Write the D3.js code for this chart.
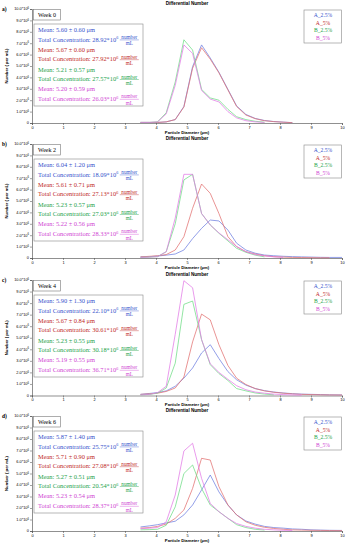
<!DOCTYPE html>
<html>
<head>
<meta charset="utf-8">
<script src="https://cdn.jsdelivr.net/npm/d3@7"></script>
<style>
  body { margin: 0; background: #fff; }
  svg { display: block; }
</style>
</head>
<body>
<svg id="chart"></svg>
<script>
// particle diameters (µm) shared by every curve
const diameters = [3.5, 3.8, 4.05, 4.33, 4.62, 4.9, 5.18, 5.47, 5.75, 6.03, 6.32, 6.6, 6.9, 7.2, 7.5, 7.8, 8.1, 8.4, 8.7, 9.0, 9.3, 9.6, 10.0];

// number per mL, in units of 10^6 (null = no measurement)
const week0 = {
  A_25: [0.05, 0.05, 0.05, 0.1, 0.3, 1.45, 4.95, 6.85, 5.7, 4.45, 2.95, 1.5, 0.75, 0.4, 0.22, 0.13, 0.08, 0.03, null, null, null, null, null],
  A_5:  [0.05, 0.05, 0.05, 0.1, 0.3, 1.4, 4.8, 6.6, 5.6, 4.4, 2.9, 1.45, 0.7, 0.38, 0.2, 0.12, 0.07, 0.03, null, null, null, null, null],
  B_25: [0.05, 0.05, 0.1, 0.9, 3.6, 7.3, 6.4, 2.95, 2.2, 2.0, 1.2, 0.55, 0.3, 0.15, 0.07, null, null, null, null, null, null, null, null],
  B_5:  [0.05, 0.05, 0.1, 0.8, 3.3, 6.85, 6.1, 2.85, 2.1, 1.85, 1.0, 0.45, 0.2, 0.1, 0.05, null, null, null, null, null, null, null, null]
};
const week2 = {
  A_25: [0.1, 0.12, 0.17, 0.25, 0.35, 0.7, 1.7, 2.6, 3.33, 3.25, 2.45, 1.3, 0.7, 0.42, 0.26, 0.2, 0.15, 0.12, 0.1, 0.08, 0.06, 0.05, 0.05],
  A_5:  [0.1, 0.15, 0.2, 0.3, 0.7, 1.87, 4.36, 6.49, 5.67, 3.9, 1.87, 1.0, 0.55, 0.35, 0.2, 0.12, 0.08, 0.05, 0.04, 0.03, 0.02, 0.02, null],
  B_25: [0.05, 0.08, 0.12, 0.55, 3.0, 6.85, 7.34, 3.9, 2.9, 2.17, 1.5, 0.85, 0.5, 0.25, 0.1, null, null, null, null, null, null, null, null],
  B_5:  [0.05, 0.08, 0.12, 0.55, 3.5, 7.34, 7.34, 3.9, 2.9, 2.2, 1.6, 1.0, 0.55, 0.3, 0.18, 0.1, 0.05, null, null, null, null, null, null]
};
const week4 = {
  A_25: [0.1, 0.18, 0.25, 0.4, 0.8, 1.5, 2.38, 3.68, 4.4, 3.2, 2.07, 1.36, 0.9, 0.6, 0.42, 0.3, 0.22, 0.16, 0.12, 0.1, 0.08, 0.06, 0.05],
  A_5:  [0.1, 0.15, 0.2, 0.35, 0.65, 1.6, 4.64, 7.05, 6.55, 4.4, 2.6, 1.5, 0.95, 0.6, 0.4, 0.28, 0.2, 0.14, 0.1, 0.08, 0.06, 0.05, 0.04],
  B_25: [0.05, 0.1, 0.2, 0.65, 2.8, 7.89, 8.18, 4.84, 2.67, 1.9, 1.3, 0.6, 0.4, 0.22, 0.12, 0.06, null, null, null, null, null, null, null],
  B_5:  [0.05, 0.1, 0.25, 0.8, 5.3, 9.94, 9.33, 4.84, 2.75, 2.0, 1.4, 0.85, 0.5, 0.3, 0.2, 0.12, 0.08, 0.05, 0.03, null, null, null, null]
};
const week6 = {
  A_25: [0.35, 0.45, 0.55, 0.7, 0.85, 1.4, 2.26, 3.57, 4.87, 3.4, 2.26, 1.4, 0.87, 0.6, 0.4, 0.3, 0.25, 0.18, 0.15, 0.1, 0.08, 0.06, 0.05],
  A_5:  [0.25, 0.3, 0.4, 0.6, 1.1, 1.83, 3.7, 6.32, 6.17, 3.86, 2.26, 1.4, 0.8, 0.5, 0.32, 0.22, 0.15, 0.1, 0.08, 0.06, 0.05, 0.04, 0.03],
  B_25: [0.1, 0.12, 0.15, 0.5, 2.1, 5.0, 5.74, 3.7, 2.26, 1.68, 1.1, 0.55, 0.3, 0.15, 0.08, null, null, null, null, null, null, null, null],
  B_5:  [0.2, 0.25, 0.3, 0.8, 3.13, 6.96, 7.63, 4.58, 2.4, 1.68, 1.1, 0.65, 0.4, 0.25, 0.15, 0.1, 0.06, 0.04, null, null, null, null, null]
};

const seriesKeys = ["A_25", "A_5", "B_25", "B_5"];
const seriesNames = ["A_2.5%", "A_5%", "B_2.5%", "B_5%"];
const weeks = ["Week 0", "Week 2", "Week 4", "Week 6"];
const letters = ["a)", "b)", "c)", "d)"];

// mean ± sd (µm) and total concentration (10^6 / mL) per series, per week
const means = [["5.60", "5.67", "5.21", "5.20"], ["6.04", "5.61", "5.23", "5.22"], ["5.90", "5.67", "5.23", "5.19"], ["5.87", "5.71", "5.27", "5.23"]];
const sds = [["0.60", "0.60", "0.57", "0.59"], ["1.20", "0.71", "0.57", "0.56"], ["1.30", "0.84", "0.55", "0.55"], ["1.40", "0.90", "0.51", "0.54"]];
const totals = [["28.92", "27.92", "27.57", "26.03"], ["18.09", "27.13", "27.03", "28.33"], ["22.10", "30.61", "30.18", "36.71"], ["25.75", "27.08", "20.54", "28.37"]];

const xTicks = [0, 1, 2, 3, 4, 5, 6, 7, 8, 9, 10];
const yTicks = [0, 1, 2, 3, 4, 5, 6, 7, 8, 9, 10];

const panels = [week0, week2, week4, week6];

const W = 349, H = 546;
const lineColors = ["#6f7fe0", "#e27070", "#6fdc86", "#e27ae6"];
const textColors = ["#3552cc", "#c02828", "#22a24a", "#cf45d3"];
// top of y scale and zero line for each panel
const tops = [9, 144, 280, 416];
const zeros = [123, 258, 395.5, 531];

const svg = d3.select("#chart").attr("width", W).attr("height", H);

const x = d3.scaleLinear().domain([0, 10]).range([32, 342]);

panels.forEach((panel, p) => {
  const top = tops[p], zero = zeros[p];
  const y = d3.scaleLinear().domain([0, 10]).range([zero, top]);
  const g = svg.append("g");

  // title
  g.append("text")
    .attr("x", 187).attr("y", top - 4.5)
    .attr("text-anchor", "middle")
    .style("font", "bold 4.6px 'Liberation Sans', Arial, sans-serif")
    .text("Differential Number");

  // panel letter
  g.append("text")
    .attr("x", 2).attr("y", top + 1.5)
    .style("font", "bold 5.5px 'Liberation Serif', serif")
    .text(letters[p]);

  // y axis
  const yAxis = g.append("g")
    .attr("transform", `translate(${x(0)},0)`)
    .call(d3.axisLeft(y).tickValues(yTicks).tickSize(2).tickFormat(""));
  yAxis.select(".domain").attr("stroke", "#444").attr("stroke-width", 0.6);
  yAxis.selectAll(".tick line").attr("stroke", "#444").attr("stroke-width", 0.5);
  yTicks.forEach(v => {
    const t = g.append("text")
      .attr("x", x(0) - 3).attr("y", y(v) + 1.4)
      .attr("text-anchor", "end")
      .style("font", "3.9px 'Liberation Sans', Arial, sans-serif");
    if (v === 0) {
      t.text("0");
    } else {
      t.append("tspan").text(v.toFixed(1) + "*10");
      t.append("tspan").attr("dy", -1.3).style("font-size", "2.6px").text("6");
    }
  });

  // x axis
  const xAxis = g.append("g")
    .attr("transform", `translate(0,${zero})`)
    .call(d3.axisBottom(x).tickValues(xTicks).tickSize(2).tickFormat(d3.format("d")));
  xAxis.select(".domain").attr("stroke", "#444").attr("stroke-width", 0.6);
  xAxis.selectAll(".tick line").attr("stroke", "#444").attr("stroke-width", 0.5);
  xAxis.selectAll(".tick text")
    .attr("y", 3.2)
    .style("font", "3.9px 'Liberation Sans', Arial, sans-serif");

  g.append("text")
    .attr("x", 187).attr("y", zero + 10.5)
    .attr("text-anchor", "middle")
    .style("font", "bold 4.2px 'Liberation Sans', Arial, sans-serif")
    .text("Particle Diameter (µm)");

  g.append("text")
    .attr("transform", `translate(8,${(top + zero) / 2}) rotate(-90)`)
    .attr("text-anchor", "middle")
    .style("font", "bold 4.2px 'Liberation Sans', Arial, sans-serif")
    .text("Number ( per mL)");

  // curves
  const line = d3.line()
    .defined(d => d[1] !== null)
    .x(d => x(d[0]))
    .y(d => y(d[1]));
  seriesKeys.forEach((k, i) => {
    g.append("path")
      .datum(diameters.map((d, j) => [d, panel[k][j]]))
      .attr("fill", "none")
      .attr("stroke", lineColors[i])
      .attr("stroke-width", 0.75)
      .attr("stroke-linejoin", "round")
      .attr("d", line);
  });

  // week box
  g.append("rect")
    .attr("x", 33.5).attr("y", top + 0.5)
    .attr("width", 27).attr("height", 10.5)
    .attr("fill", "#fff").attr("stroke", "#777").attr("stroke-width", 0.6);
  g.append("text")
    .attr("x", 47).attr("y", top + 7.8)
    .attr("text-anchor", "middle")
    .style("font", "6px 'Liberation Serif', serif")
    .text(weeks[p]);

  // stats box
  const bx = 34, by = top + 15;
  g.append("rect")
    .attr("x", bx).attr("y", by)
    .attr("width", 109).attr("height", 82)
    .attr("fill", "#fff").attr("stroke", "#888").attr("stroke-width", 0.6);
  seriesKeys.forEach((k, i) => {
    const ly = by + 8 + i * 19.8;
    g.append("text")
      .attr("x", bx + 4).attr("y", ly)
      .attr("fill", textColors[i])
      .style("font", "6.4px 'Liberation Serif', serif")
      .text(`Mean: ${means[p][i]} ± ${sds[p][i]} μm`);
    const ty = ly + 9.5;
    const t = g.append("text")
      .attr("x", bx + 4).attr("y", ty)
      .attr("fill", textColors[i])
      .style("font", "6.4px 'Liberation Serif', serif");
    t.append("tspan").text(`Total Concentration: ${totals[p][i]}*10`);
    t.append("tspan").attr("dy", -2.3).style("font-size", "4.2px").text("6");
    const tw = t.node().getComputedTextLength();
    const fx = bx + 4 + tw + 11;
    g.append("text")
      .attr("x", fx).attr("y", ty - 2.6)
      .attr("text-anchor", "middle")
      .attr("fill", textColors[i])
      .style("font", "5.2px 'Liberation Serif', serif")
      .text("number");
    g.append("line")
      .attr("x1", fx - 9.5).attr("x2", fx + 9.5)
      .attr("y1", ty - 1.6).attr("y2", ty - 1.6)
      .attr("stroke", textColors[i]).attr("stroke-width", 0.4);
    g.append("text")
      .attr("x", fx).attr("y", ty + 3.7)
      .attr("text-anchor", "middle")
      .attr("fill", textColors[i])
      .style("font", "5.2px 'Liberation Serif', serif")
      .text("mL");
  });

  // legend
  g.append("rect")
    .attr("x", 304).attr("y", top + 1)
    .attr("width", 37.5).attr("height", 33)
    .attr("fill", "#fff").attr("stroke", "#888").attr("stroke-width", 0.6);
  seriesNames.forEach((n, i) => {
    g.append("text")
      .attr("x", 323).attr("y", top + 8.2 + i * 7.5)
      .attr("text-anchor", "middle")
      .attr("fill", textColors[i])
      .style("font", "5.6px 'Liberation Serif', serif")
      .text(n);
  });
});
</script>
</body>
</html>
